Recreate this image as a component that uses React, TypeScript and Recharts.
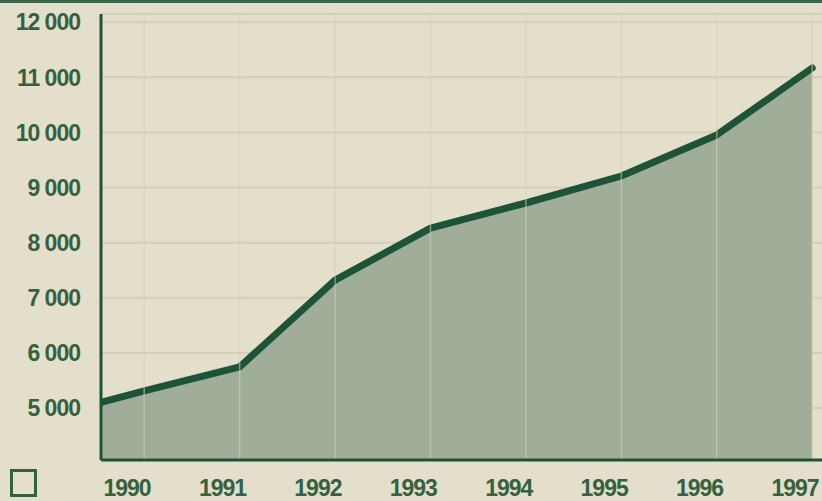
import { ComposedChart, Area, XAxis, YAxis, CartesianGrid, ReferenceLine } from "recharts";

// yearly values; 1989 sits just left of the plot and only shows as the clipped start of the line
const years = [1989, 1990, 1991, 1992, 1993, 1994, 1995, 1996, 1997];
const values = [4850, 5310, 5745, 7320, 8265, 8720, 9210, 9955, 11170];
const yearTicks = [1990, 1991, 1992, 1993, 1994, 1995, 1996, 1997];
const valueTicks = [5000, 6000, 7000, 8000, 9000, 10000, 11000, 12000];

// points are plotted a bit after each year label (end of period)
const pointOffset = 0.18;

const data = years.map((y, i) => ({ x: y + pointOffset, value: values[i] }));

const bg = "#e4dfcb";
const green = "#1d5437";
const textGreen = "#34613f";
const fill = "#a0ad99";
const grid = "#d4cfba";
const font = "'Liberation Sans Narrow', 'Liberation Sans', Arial, sans-serif";

function fmt(v: number) {
  return `${Math.floor(v / 1000)} 000`;
}

export default function App() {
  return (
    <div style={{ position: "absolute", left: 0, top: 0, width: 822, height: 501, background: bg, overflow: "hidden" }}>
      <div style={{ position: "absolute", left: 0, top: 0, width: 822, height: 3, background: "#3c6446" }} />
      <ComposedChart width={822} height={501} data={data} margin={{ top: 14, right: 0, bottom: 0, left: 0 }}>
        <CartesianGrid stroke={grid} strokeWidth={2} vertical={false} />
        {data.map((d) => (
          <ReferenceLine key={d.x} x={d.x} stroke={grid} strokeWidth={1.5} strokeOpacity={0.55} ifOverflow="hidden" />
        ))}
        <XAxis
          type="number"
          dataKey="x"
          domain={[1989.727, 1997.283]}
          allowDataOverflow
          ticks={yearTicks}
          tickSize={0}
          tickMargin={20}
          height={41}
          axisLine={{ stroke: green, strokeWidth: 3 }}
          tick={{ fill: textGreen, fontSize: 23, fontFamily: font, fontWeight: 700, letterSpacing: -1 }}
        />
        <YAxis
          domain={[4056, 12150]}
          allowDataOverflow
          ticks={valueTicks}
          tickFormatter={fmt}
          tickSize={0}
          tickMargin={21}
          width={101}
          axisLine={{ stroke: green, strokeWidth: 3 }}
          tick={{ fill: textGreen, fontSize: 23, fontFamily: font, fontWeight: 700, letterSpacing: -1 }}
        />
        <Area
          type="linear"
          dataKey="value"
          fill={fill}
          fillOpacity={1}
          stroke={green}
          strokeWidth={7}
          strokeLinecap="round"
          strokeLinejoin="round"
          dot={false}
          activeDot={false}
          isAnimationActive={false}
        />
      </ComposedChart>
      <div style={{ position: "absolute", left: 10, top: 469, width: 21, height: 22, border: `3px solid ${textGreen}` }} />
    </div>
  );
}
